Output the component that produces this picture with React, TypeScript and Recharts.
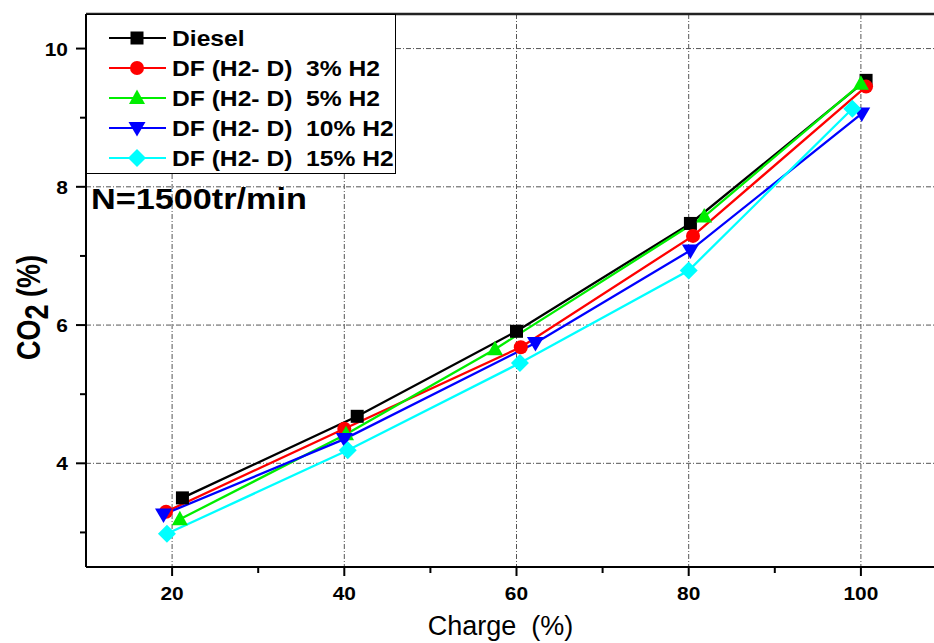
import { CartesianGrid, Label, Legend, Line, LineChart, ReferenceLine, XAxis, YAxis } from "recharts";

// values (x = charge %, y = CO2 %)
const dieselX = [21.2, 41.5, 60, 80.2, 100.6];
const dieselY = [3.5, 4.68, 5.91, 7.47, 9.54];
const h3X = [19.3, 40, 60.5, 80.5, 100.6];
const h3Y = [3.3, 4.5, 5.68, 7.29, 9.45];
const h5X = [20.9, 40.2, 57.5, 81.8, 100];
const h5Y = [3.19, 4.42, 5.65, 7.57, 9.49];
const h10X = [19.0, 40.0, 62.2, 80.2, 100.1];
const h10Y = [3.26, 4.35, 5.74, 7.08, 9.06];
const h15X = [19.4, 40.4, 60.4, 80, 99];
const h15Y = [2.98, 4.19, 5.45, 6.79, 9.13];

const xTicks = [20, 30, 40, 50, 60, 70, 80, 90, 100];
const xMajor = [20, 40, 60, 80, 100];
const yTicks = [3, 4, 5, 6, 7, 8, 9, 10];
const yMajor = [4, 6, 8, 10];

const FONT = "Arial, 'Liberation Sans', Helvetica, sans-serif";

type Pt = { x: number; y: number };
const zip = (xs: number[], ys: number[]): Pt[] => xs.map((x, i) => ({ x, y: ys[i] }));

type Shape = "square" | "circle" | "up" | "down" | "diamond";

const series: { name: string; color: string; shape: Shape; data: Pt[] }[] = [
  { name: "Diesel", color: "#000000", shape: "square", data: zip(dieselX, dieselY) },
  { name: "DF (H2- D)  3% H2", color: "#ff0000", shape: "circle", data: zip(h3X, h3Y) },
  { name: "DF (H2- D)  5% H2", color: "#00ee00", shape: "up", data: zip(h5X, h5Y) },
  { name: "DF (H2- D)  10% H2", color: "#0000ff", shape: "down", data: zip(h10X, h10Y) },
  { name: "DF (H2- D)  15% H2", color: "#00ffff", shape: "diamond", data: zip(h15X, h15Y) },
];

function Marker({ shape, cx, cy, color }: { shape: Shape; cx: number; cy: number; color: string }) {
  switch (shape) {
    case "square":
      return <rect x={cx - 6.5} y={cy - 6.5} width={13} height={13} fill={color} />;
    case "circle":
      return <circle cx={cx} cy={cy} r={7} fill={color} />;
    case "up":
      return <polygon points={`${cx},${cy - 8.5} ${cx + 8},${cy + 6} ${cx - 8},${cy + 6}`} fill={color} />;
    case "down":
      return <polygon points={`${cx - 8.5},${cy - 6} ${cx + 8.5},${cy - 6} ${cx},${cy + 8.5}`} fill={color} />;
    default:
      return <polygon points={`${cx},${cy - 9} ${cx + 9},${cy} ${cx},${cy + 9} ${cx - 9},${cy}`} fill={color} />;
  }
}

const XTick = (props: any) => {
  const { x, y, payload } = props;
  const major = xMajor.includes(payload.value);
  return (
    <g>
      <line x1={x} x2={x} y1={y} y2={y + (major ? 9 : 6)} stroke="#000" strokeWidth={2} />
      {major && (
        <text
          transform={`translate(${x},${y + 33}) scale(1.1,1)`}
          textAnchor="middle"
          fontSize={19}
          fontWeight="bold"
          fontFamily={FONT}
          fill="#000"
        >
          {payload.value}
        </text>
      )}
    </g>
  );
};

const YTick = (props: any) => {
  const { x, y, payload } = props;
  const major = yMajor.includes(payload.value);
  return (
    <g>
      <line x1={x} x2={x - (major ? 10 : 6)} y1={y} y2={y} stroke="#000" strokeWidth={2} />
      {major && (
        <text
          transform={`translate(${x - 18},${y + 7}) scale(1.1,1)`}
          textAnchor="end"
          fontSize={19}
          fontWeight="bold"
          fontFamily={FONT}
          fill="#000"
        >
          {payload.value}
        </text>
      )}
    </g>
  );
};

const YTitle = (props: any) => {
  const vb = props.viewBox;
  const cx = vb.x + 40;
  const cy = vb.y + vb.height / 2 + 17;
  return (
    <text
      transform={`translate(${cx},${cy}) rotate(-90) scale(1,1.25)`}
      textAnchor="middle"
      fontSize={27}
      fontWeight="bold"
      fontFamily={FONT}
      fill="#000"
    >
      CO
      <tspan dy={6}>2</tspan>
      <tspan dy={-6}> (%)</tspan>
    </text>
  );
};

const XTitle = (props: any) => {
  const vb = props.viewBox;
  return (
    <text
      x={vb.x + vb.width / 2 - 16}
      y={vb.y + 68}
      textAnchor="middle"
      fontSize={27}
      fontFamily={FONT}
      fill="#000"
      style={{ whiteSpace: "pre" }}
    >
      {"Charge  (%)"}
    </text>
  );
};

const LegendBox = () => (
  <svg width={330} height={210} style={{ overflow: "visible", display: "block" }}>
    <rect x={0.5} y={0.5} width={309} height={159} fill="#fff" stroke="#000" strokeWidth={1} />
    {series.map((s, i) => {
      const cy = 24 + 30 * i;
      return (
        <g key={s.name}>
          <line x1={23} x2={80} y1={cy} y2={cy} stroke={s.color} strokeWidth={2.2} />
          <Marker shape={s.shape} cx={51} cy={cy} color={s.color} />
          <text
            transform={`translate(86,${cy + 8}) scale(1.12,1)`}
            fontSize={22}
            fontWeight="bold"
            fontFamily={FONT}
            fill="#000"
            style={{ whiteSpace: "pre" }}
          >
            {s.name}
          </text>
        </g>
      );
    })}
    <text
      transform="translate(5,195) scale(1.18,1)"
      fontSize={29}
      fontWeight="bold"
      fontFamily={FONT}
      fill="#000"
    >
      N=1500tr/min
    </text>
  </svg>
);

export default function App() {
  return (
    <div
      style={{
        position: "fixed",
        left: 0,
        top: 0,
        width: 934,
        height: 643,
        overflow: "hidden",
        background: "#fff",
      }}
    >
      <LineChart width={960} height={643} margin={{ top: 14, right: 13, bottom: 0, left: 0 }}>
        <CartesianGrid
          stroke="#555"
          strokeDasharray="5 2 1 2"
          verticalValues={xMajor}
          horizontalValues={yMajor}
        />
        <XAxis
          dataKey="x"
          type="number"
          domain={[10, 110]}
          ticks={xTicks}
          allowDataOverflow
          height={76}
          tickSize={0}
          tickMargin={0}
          tickLine={false}
          axisLine={{ stroke: "#000", strokeWidth: 2 }}
          tick={XTick}
        >
          <Label content={XTitle} />
        </XAxis>
        <YAxis
          type="number"
          domain={[2.5, 10.5]}
          ticks={yTicks}
          allowDataOverflow
          width={86}
          tickSize={0}
          tickMargin={0}
          tickLine={false}
          axisLine={{ stroke: "#000", strokeWidth: 2 }}
          tick={YTick}
        >
          <Label content={YTitle} />
        </YAxis>
        <ReferenceLine y={10.5} stroke="#222" strokeWidth={2.5} />
        {series.map((s) => (
          <Line
            key={s.name}
            name={s.name}
            data={s.data}
            dataKey="y"
            type="linear"
            stroke={s.color}
            strokeWidth={2.3}
            isAnimationActive={false}
            activeDot={false}
            dot={(p: any) => (
              <Marker key={`${s.name}-${p.index}`} shape={s.shape} cx={p.cx} cy={p.cy} color={s.color} />
            )}
          />
        ))}
        <Legend
          layout="vertical"
          align="center"
          verticalAlign="middle"
          wrapperStyle={{ left: 86, top: 14, width: 330, height: 210 }}
          content={() => <LegendBox />}
        />
      </LineChart>
    </div>
  );
}
